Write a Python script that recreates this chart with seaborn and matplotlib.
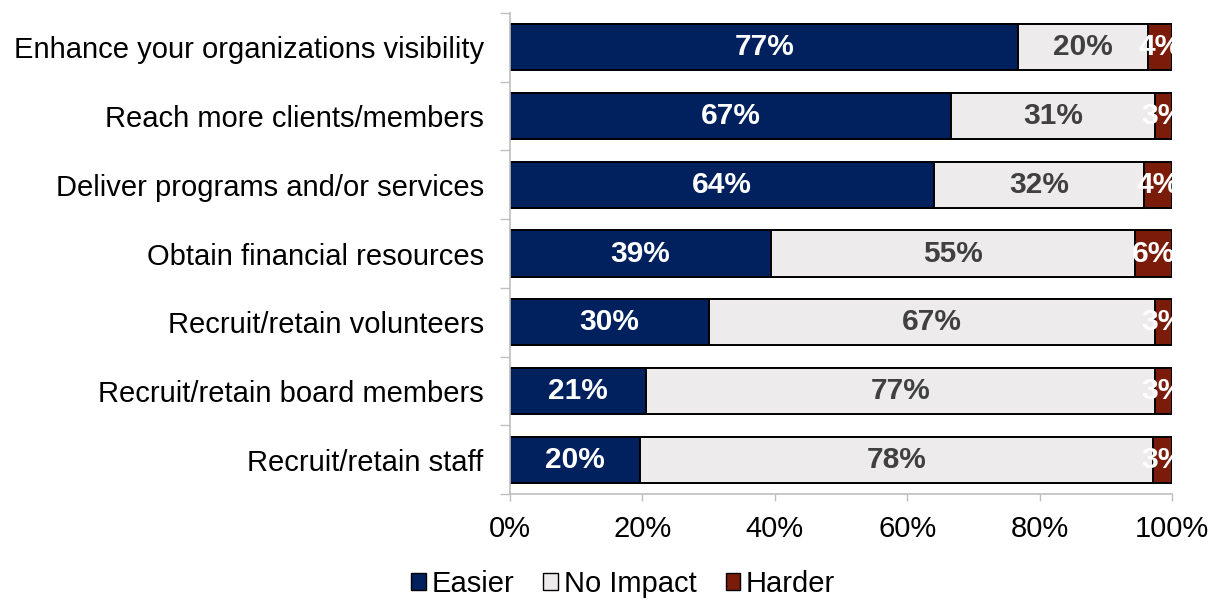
import matplotlib
matplotlib.use("Agg")
import matplotlib.pyplot as plt
import numpy as np
import pandas as pd
import seaborn as sns
from matplotlib.patches import Patch

# Survey results: share of organisations for which each activity became
# easier / saw no impact / became harder (percent of respondents)
categories = [
    "Enhance your organizations visibility",
    "Reach more clients/members",
    "Deliver programs and/or services",
    "Obtain financial resources",
    "Recruit/retain volunteers",
    "Recruit/retain board members",
    "Recruit/retain staff",
]
easier = [76.8, 66.6, 64.0, 39.4, 30.1, 20.6, 19.6]
no_impact = [19.6, 30.8, 31.8, 55.0, 67.3, 76.8, 77.6]
harder = [3.6, 2.6, 4.2, 5.6, 2.6, 2.6, 2.8]

series_names = ["Easier", "No Impact", "Harder"]
series_colors = ["#00215E", "#EDEBEB", "#7B1C0A"]
label_colors = ["white", "#404040", "white"]
x_ticks = [0, 20, 40, 60, 80, 100]
x_tick_labels = ["0%", "20%", "40%", "60%", "80%", "100%"]

sns.set_theme(style="white")
plt.rcParams["font.family"] = ["Liberation Sans", "DejaVu Sans"]
plt.rcParams["text.color"] = "black"

FS = 21
AXIS_GREY = "#BFBFBF"

df = pd.DataFrame({"category": categories, "Easier": easier,
                   "No Impact": no_impact, "Harder": harder})
# running right-hand edge of each segment
ends = df[series_names].cumsum(axis=1)
starts = ends - df[series_names]

fig = plt.figure(figsize=(12.1, 6), dpi=100)
ax = fig.add_axes([0.4215, 0.1767, 0.5471, 0.8016])

# stacked bars: draw widest cumulative segment first, then overlay the rest
for name, color in reversed(list(zip(series_names, series_colors))):
    sns.barplot(x=ends[name], y=df["category"], orient="h", color=color,
                edgecolor="black", linewidth=1.4, width=0.67,
                saturation=1, ax=ax)

# value labels centred on each segment
for s, name in enumerate(series_names):
    for i in range(len(categories)):
        val = df.loc[i, name]
        cx = starts.loc[i, name] + val / 2
        ax.text(cx, i, f"{val:.0f}%", ha="center", va="center",
                fontsize=FS + 0.5, fontweight="bold", color=label_colors[s],
                clip_on=True)

ax.set_xlim(0, 100)
ax.set_ylim(len(categories) - 0.5, -0.5)
ax.set_xlabel("")
ax.set_ylabel("")

ax.set_xticks(x_ticks)
ax.set_xticklabels(x_tick_labels, fontsize=FS, color="black")
ax.tick_params(axis="x", direction="out", length=5, width=1,
               color=AXIS_GREY, pad=10, bottom=True)

ax.set_yticks(range(len(categories)))
ax.set_yticklabels(categories, fontsize=FS, color="black")
ax.tick_params(axis="y", which="major", length=0, pad=19)
ax.set_yticks(np.arange(-0.5, len(categories)), minor=True)
ax.tick_params(axis="y", which="minor", direction="out", length=7,
               width=1, color=AXIS_GREY, left=True)

for side in ["top", "right"]:
    ax.spines[side].set_visible(False)
for side in ["left", "bottom"]:
    ax.spines[side].set_color(AXIS_GREY)
    ax.spines[side].set_linewidth(1.2)

handles = [Patch(facecolor=c, edgecolor="black", linewidth=1, label=n)
           for n, c in zip(series_names, series_colors)]
leg = fig.legend(handles=handles, loc="center", bbox_to_anchor=(0.515, 0.027),
                 ncol=3, frameon=False, fontsize=FS, handlelength=0.5,
                 handleheight=0.5, handletextpad=0.2, columnspacing=1.0,
                 borderpad=0)
for t in leg.get_texts():
    t.set_color("black")

fig.savefig("out.png", dpi=100)
